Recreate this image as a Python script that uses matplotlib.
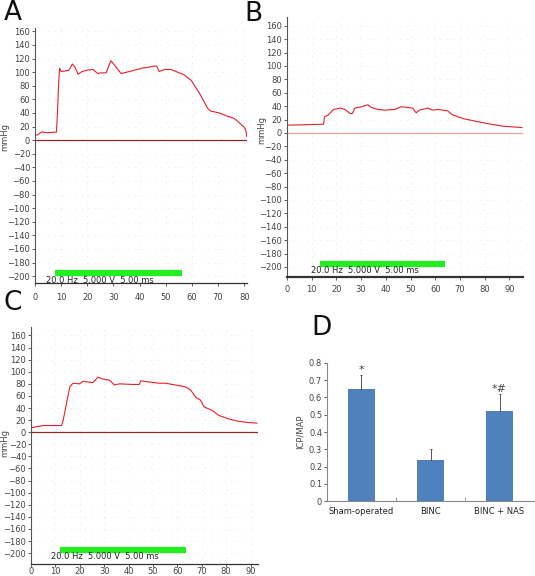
import numpy as np
import matplotlib.pyplot as plt

# traces (time in s, pressure in mmHg)
a_t = [0, 1, 2.5, 5, 8.2, 8.6, 9.0, 9.4, 10, 12, 13, 14.3, 15.2, 16.5, 18, 20, 22.2, 24, 25, 27.2,
       29, 30.5, 32.9, 35, 37.2, 41, 43, 45.5, 46.5, 47.5, 49.5, 52, 55.2, 57, 59.7, 62.9, 66, 67,
       70.5, 73, 75.6, 76.5, 78, 80, 80.6, 81]
a_p = [7, 8, 12, 11, 12, 40, 80, 106, 101, 102, 103, 112, 108, 97, 101, 103, 104, 98, 99, 99,
       117, 110, 98, 100, 102, 106, 107, 109, 109, 101, 104, 104, 99, 96, 88, 69, 47, 43,
       40, 36, 33, 31, 26, 19, 15, 5]

b_t = [0, 5, 10, 14.8, 15.2, 16.8, 18.8, 21.5, 23.5, 25.5, 26.5, 27.4, 30.1, 32.8, 34.1, 36.8,
       39.5, 43.6, 46.2, 48.9, 50.9, 52.3, 53.6, 57, 59, 61, 65, 67, 71.7, 77, 82.4, 87.7, 95.1]
b_p = [11.6, 12, 12.5, 13, 24, 27, 35, 37, 35, 29, 29, 37, 39, 42, 38, 35,
       34, 35, 39, 38, 37, 30, 34, 37, 34, 35, 33, 27, 21, 17, 13, 10, 8]

c_t = [0, 2, 5, 8, 12.5, 13.2, 14.5, 15.9, 17.2, 19.9, 21.3, 25.4, 27.4, 29.4, 32.2, 34.2, 36.2,
       41.6, 44.4, 45, 48.5, 52.5, 55.2, 59.3, 63.4, 65.4, 67.5, 69.5, 70.9, 74.3, 76.9, 81,
       85.1, 89, 92.6]
c_p = [7, 9, 11, 11, 11, 20, 47, 75, 81, 80, 84, 82, 91, 88, 86, 78, 80,
       79, 79, 85, 83, 81, 81, 78, 75, 70, 58, 53, 42, 36, 28, 22,
       18, 16, 15]

stim_label = "20.0 Hz  5.000 V  5.00 ms"
a_stim = (7.6, 56.3)
b_stim = (13.3, 64.0)
c_stim = (11.8, 63.4)

groups = ["Sham-operated", "BINC", "BINC + NAS"]
ratio = [0.65, 0.24, 0.52]
ratio_err = [0.08, 0.06, 0.10]
marks = ["*", "", "*#"]

fig = plt.figure(figsize=(5.35, 5.76), dpi=100)
txt = "#444444"


def trace_panel(rect, t, p, xmax, ylim, stim, xticks, bottom_lw, zero_col, xpad):
    ax = fig.add_axes(rect)
    ax.plot(t, p, color="#e8202a", lw=0.8)
    ax.axhline(0, color=zero_col, lw=0.9)
    ax.plot(stim, [-195, -195], color="#22ee22", lw=4.5, solid_capstyle="butt")
    ax.text(stim[0] - 3.5, -206, stim_label, fontsize=6, color="#222222", va="center")
    ax.set_xlim(0, xmax)
    ax.set_ylim(*ylim)
    ax.set_yticks(range(-200, 161, 20))
    ax.set_yticklabels([str(v).replace("-", "\u2212") for v in range(-200, 161, 20)])
    ax.set_xticks(xticks)
    ax.tick_params(labelsize=6, colors=txt, length=2, width=0.6, pad=1.5)
    ax.tick_params(axis="x", pad=xpad)
    ax.grid(True, color="#dddddd", lw=0.6, linestyle=(0, (1, 7)))
    for s in ["top", "right"]:
        ax.spines[s].set_visible(False)
    ax.spines["left"].set_color("#555555")
    ax.spines["left"].set_linewidth(0.8)
    ax.spines["bottom"].set_color("#333333")
    ax.spines["bottom"].set_linewidth(bottom_lw)
    return ax


axA = trace_panel([0.0654, 0.5087, 0.396, 0.4427], a_t, a_p, 81, (-210, 165), a_stim,
                  range(0, 81, 10), 0.9, "#8b2a2a", 5)
axB = trace_panel([0.5364, 0.5191, 0.441, 0.4514], b_t, b_p, 95.5, (-215, 173), b_stim,
                  range(0, 91, 10), 1.6, "#e8a0a0", 4)
axC = trace_panel([0.058, 0.0208, 0.424, 0.4115], c_t, c_p, 93, (-218, 174), c_stim,
                  range(0, 91, 10), 0.9, "#8b2a2a", 0.5)

fig.text(5 / 535, 1 - 137 / 576, "mmHg", rotation=90, fontsize=6, color=txt, ha="center", va="center")
fig.text(262 / 535, 1 - 130 / 576, "mmHg", rotation=90, fontsize=6, color=txt, ha="center", va="center")
fig.text(5 / 535, 1 - 443 / 576, "mmHg", rotation=90, fontsize=6, color=txt, ha="center", va="center")

# panel D bar chart
axD = fig.add_axes([0.6112, 0.1302, 0.387, 0.2396])
x = np.arange(len(groups))
axD.bar(x, ratio, width=0.39, color="#4f81bd", zorder=2)
axD.errorbar(x, ratio, yerr=[np.zeros(3), ratio_err], fmt="none", ecolor="#555555",
             elinewidth=0.7, capsize=1, capthick=0.7)
for xi, v, e, m in zip(x, ratio, ratio_err, marks):
    if m:
        axD.text(xi, v + e + 0.03, m, ha="center", va="center", fontsize=8, color="#444444")
axD.set_xlim(-0.5, 2.5)
axD.set_ylim(0, 0.8)
axD.set_yticks(np.arange(0, 0.81, 0.1))
axD.set_yticklabels(["0"] + ["%.1f" % v for v in np.arange(0.1, 0.81, 0.1)])
axD.set_xticks(x)
axD.set_xticklabels(groups)
axD.set_xticks([0.5, 1.5], minor=True)
axD.tick_params(axis="x", which="major", length=0, labelsize=6, colors="#222222", pad=4)
axD.tick_params(axis="x", which="minor", length=3, width=0.6, color="#888888", direction="in")
axD.tick_params(axis="y", labelsize=6, colors=txt, length=2, width=0.6, pad=1.5)
for s in ["top", "right"]:
    axD.spines[s].set_visible(False)
axD.spines["left"].set_color("#888888")
axD.spines["bottom"].set_color("#888888")
axD.set_ylabel("ICP/MAP", fontsize=6, color=txt, labelpad=3)

for lab, xx, yy in [("A", 13, 13), ("B", 253, 14), ("C", 13, 303), ("D", 322, 328)]:
    fig.text(xx / 535, 1 - yy / 576, lab, fontsize=19, ha="center", va="center", color="#111111")

fig.savefig("out.png", dpi=100)
